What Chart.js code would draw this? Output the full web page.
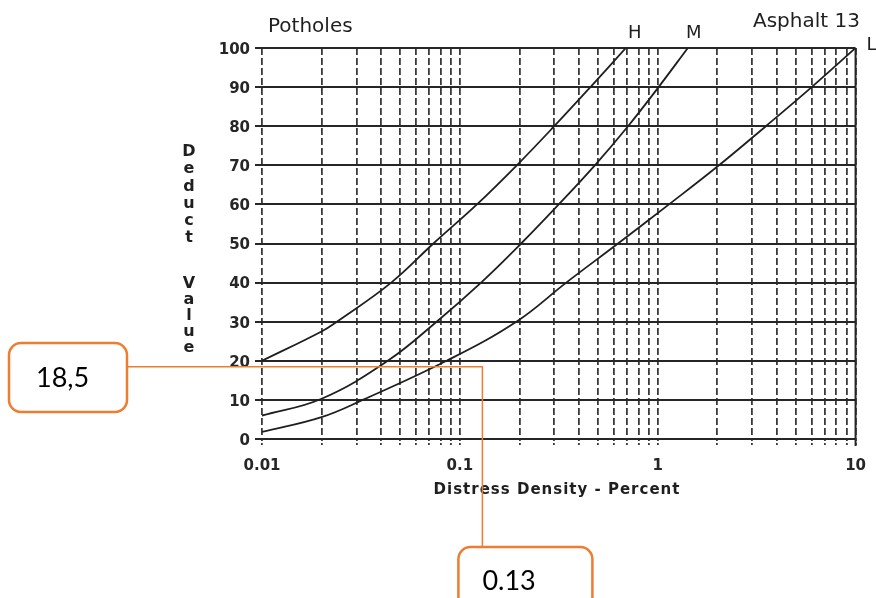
<!DOCTYPE html>
<html>
<head>
<meta charset="utf-8">
<script src="https://cdn.jsdelivr.net/npm/chart.js@4.4.1/dist/chart.umd.min.js"></script>
<style>
  html, body { margin: 0; padding: 0; background: #fff; }
  canvas { display: block; }
</style>
</head>
<body>
<canvas id="chart" width="876" height="598"></canvas>
<script>
// Deduct value curves for potholes (asphalt, chart 13), one per severity level.
const deductTicks = [0, 10, 20, 30, 40, 50, 60, 70, 80, 90, 100];
const densityLabels = [0.01, 0.1, 1, 10];

const highDensity = [0.01, 0.02, 0.0239, 0.045, 0.0735, 0.122, 0.194, 0.3, 0.457, 0.69];
const highDeduct  = [20, 27.5, 30, 40, 50, 60, 70, 80, 90, 100];

const mediumDensity = [0.01, 0.02, 0.0432, 0.0763, 0.128, 0.204, 0.316, 0.481, 0.708, 1.01, 1.42];
const mediumDeduct  = [6, 10.3, 20, 30, 40, 50, 60, 70, 80, 90, 100];

const lowDensity = [0.01, 0.02, 0.0323, 0.0857, 0.193, 0.345, 0.63, 1.14, 2.04, 3.52, 6.0, 10];
const lowDeduct  = [1.8, 5.6, 10, 20, 30, 40, 50, 60, 70, 80, 90, 100];

const severityNames = ['H', 'M', 'L'];

// Reading taken off the chart
const readoutDeduct = 18.5;
const readoutDensity = 0.13;

const INK = '#1f1f1f';
const ORANGE = '#ED7D31';

function toPoints(xs, ys) {
  return xs.map((x, i) => ({ x: x, y: ys[i] }));
}

// Grid positions: every integer mantissa inside each decade, plus the last decade
const gridValues = [];
for (let d = 0; d < densityLabels.length - 1; d++) {
  for (let m = 1; m <= 9; m++) gridValues.push(+(densityLabels[d] * m).toPrecision(3));
}
gridValues.push(densityLabels[densityLabels.length - 1]);

function curve(label, xs, ys) {
  return {
    label: label,
    data: toPoints(xs, ys),
    borderColor: INK,
    borderWidth: 1.8,
    pointRadius: 0,
    fill: false,
    tension: 0.4
  };
}

// Severity label offsets from each curve's top end
const labelOffsets = {
  H: { dx: 9, dy: -10, align: 'center' },
  M: { dx: 6, dy: -10, align: 'center' },
  L: { dx: 11, dy: 2, align: 'left' }
};

function roundRect(ctx, x, y, w, h, r) {
  ctx.beginPath();
  ctx.moveTo(x + r, y);
  ctx.lineTo(x + w - r, y);
  ctx.arcTo(x + w, y, x + w, y + r, r);
  ctx.lineTo(x + w, y + h - r);
  ctx.arcTo(x + w, y + h, x + w - r, y + h, r);
  ctx.lineTo(x + r, y + h);
  ctx.arcTo(x, y + h, x, y + h - r, r);
  ctx.lineTo(x, y + r);
  ctx.arcTo(x, y, x + r, y, r);
  ctx.closePath();
}

const decorations = {
  id: 'decorations',
  afterDraw(chart) {
    const ctx = chart.ctx;
    const xs = chart.scales.x, ys = chart.scales.y;
    ctx.save();

    // solid right frame at the last decade
    const xr = xs.getPixelForValue(densityLabels[densityLabels.length - 1]);
    ctx.strokeStyle = '#262626';
    ctx.lineWidth = 2;
    ctx.beginPath();
    ctx.moveTo(xr, ys.getPixelForValue(deductTicks[deductTicks.length - 1]));
    ctx.lineTo(xr, ys.getPixelForValue(deductTicks[0]) + 7);
    ctx.stroke();

    // headings
    ctx.fillStyle = INK;
    ctx.textBaseline = 'alphabetic';
    ctx.textAlign = 'left';
    ctx.font = '20px "DejaVu Sans"';
    ctx.fillText('Potholes', 268, 32);
    ctx.fillText('Asphalt 13', 753, 27);

    // severity labels at the top of each curve
    ctx.font = '18px "DejaVu Sans"';
    chart.data.datasets.forEach((ds, i) => {
      const pts = chart.getDatasetMeta(i).data;
      const end = pts[pts.length - 1];
      const off = labelOffsets[ds.label];
      ctx.textAlign = off.align;
      ctx.fillText(ds.label, end.x + off.dx, end.y + off.dy);
    });

    // stacked y-axis title
    ctx.font = 'bold 16px "DejaVu Sans"';
    ctx.textAlign = 'center';
    ctx.textBaseline = 'middle';
    'Deduct'.split('').forEach((ch, i) => ctx.fillText(ch, 189, 152 + i * 17.2));
    'Value'.split('').forEach((ch, i) => ctx.fillText(ch, 189, 284 + i * 16));

    // x-axis title
    ctx.letterSpacing = '1px';
    ctx.font = 'bold 15px "DejaVu Sans"';
    ctx.fillText('Distress Density - Percent', 557, 490);
    ctx.letterSpacing = '0px';

    // read-off guide lines with call-out boxes
    const gx = xs.getPixelForValue(readoutDensity);
    const gy = ys.getPixelForValue(readoutDeduct);
    const box1 = { x: 9, y: 343, w: 118, h: 69 };
    const box2 = { x: gx - 24, y: 547, w: 134, h: 80 };

    ctx.strokeStyle = ORANGE;
    ctx.lineWidth = 1.5;
    ctx.beginPath();
    ctx.moveTo(box1.x + box1.w, gy);
    ctx.lineTo(gx, gy);
    ctx.lineTo(gx, box2.y);
    ctx.stroke();

    ctx.lineWidth = 2.5;
    [box1, box2].forEach(b => {
      roundRect(ctx, b.x, b.y, b.w, b.h, 12);
      ctx.fillStyle = '#fff';
      ctx.fill();
      ctx.stroke();
    });

    ctx.fillStyle = '#000';
    ctx.font = '27px Lato';
    ctx.textAlign = 'left';
    ctx.textBaseline = 'alphabetic';
    ctx.fillText(String(readoutDeduct).replace('.', ','), box1.x + 27, 387);
    ctx.fillText(String(readoutDensity), box2.x + 24, 590);

    ctx.restore();
  }
};

new Chart(document.getElementById('chart'), {
  type: 'line',
  data: {
    datasets: [
      curve(severityNames[0], highDensity, highDeduct),
      curve(severityNames[1], mediumDensity, mediumDeduct),
      curve(severityNames[2], lowDensity, lowDeduct)
    ]
  },
  options: {
    responsive: false,
    animation: false,
    devicePixelRatio: 1,
    layout: { padding: { top: 48, right: 19, left: 0, bottom: 0 } },
    plugins: { legend: { display: false }, tooltip: { enabled: false } },
    scales: {
      x: {
        type: 'logarithmic',
        min: densityLabels[0],
        max: densityLabels[densityLabels.length - 1],
        afterBuildTicks(axis) { axis.ticks = gridValues.map(v => ({ value: v })); },
        afterFit(axis) { axis.height = 159; },
        grid: {
          color: '#3a3a3a',
          lineWidth: 1.8,
          tickLength: 8,
          tickBorderDash: [2, 2]
        },
        border: { display: false, dash: [7, 3] },
        ticks: {
          autoSkip: false,
          maxRotation: 0,
          padding: 10,
          color: '#262626',
          font: { family: '"DejaVu Sans"', size: 15, weight: 'bold' },
          callback(value) { return densityLabels.includes(+value.toPrecision(3)) ? String(value) : ''; }
        }
      },
      y: {
        min: deductTicks[0],
        max: deductTicks[deductTicks.length - 1],
        afterBuildTicks(axis) { axis.ticks = deductTicks.map(v => ({ value: v })); },
        afterFit(axis) { axis.width = 262; },
        grid: { color: '#262626', lineWidth: 2, tickLength: 7 },
        border: { display: false },
        ticks: {
          padding: 5,
          labelOffset: 2,
          color: '#262626',
          font: { family: '"DejaVu Sans"', size: 15, weight: 'bold' }
        }
      }
    }
  },
  plugins: [decorations]
});
</script>
</body>
</html>
